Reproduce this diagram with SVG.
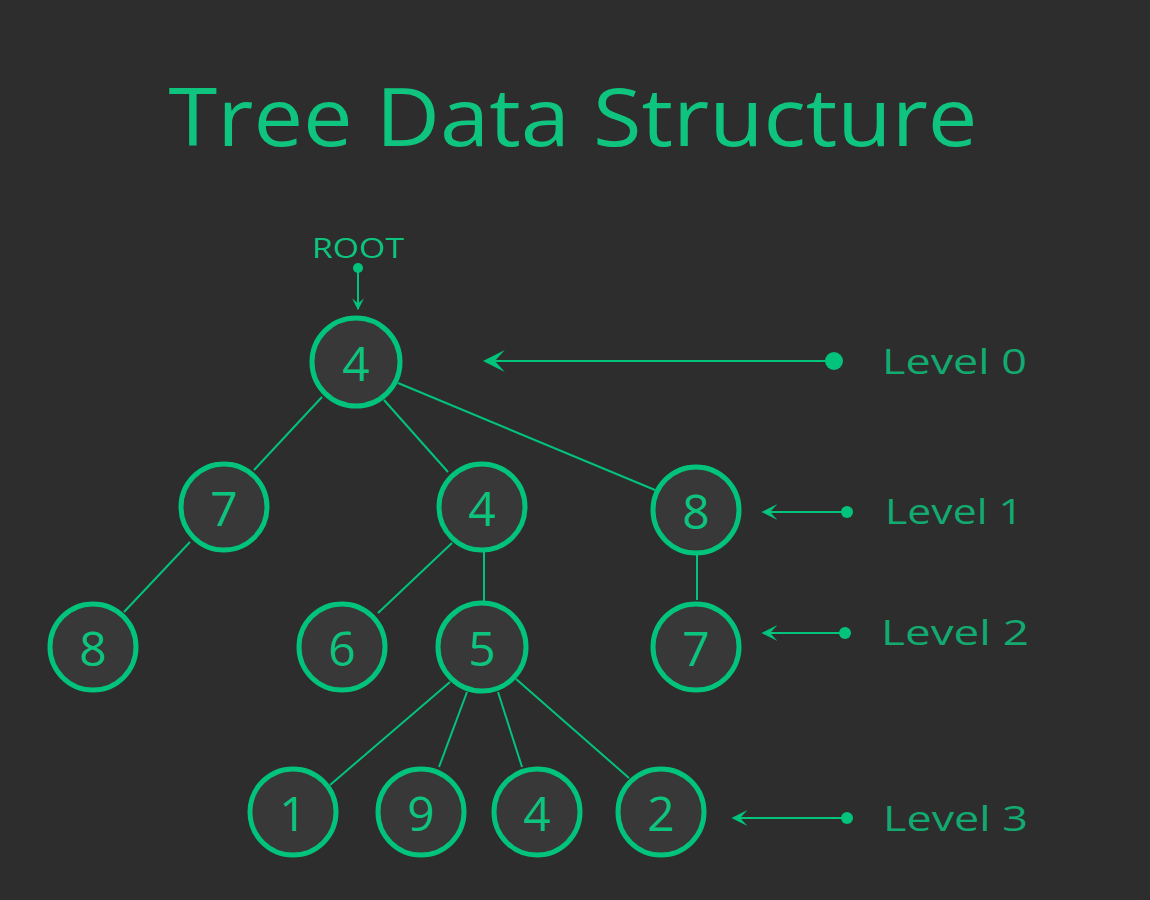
<svg xmlns="http://www.w3.org/2000/svg" width="1150" height="900" viewBox="0 0 1150 900">
<style>
.node circle{fill:#383838;stroke:#02c37b;stroke-width:5}
.node text{font-family:"Open Sans","Liberation Sans",sans-serif;font-size:48px;fill:#0cc47e;text-anchor:middle;dominant-baseline:central}
.edge{stroke:#02c37b;stroke-width:2;fill:none}
.lbl{font-family:"Open Sans","Liberation Sans",sans-serif;font-size:34px;fill:#12aa70}
.dot{fill:#02c37b}
</style>
<defs>
<marker id="ah" viewBox="0 0 20 20" refX="18" refY="10" markerWidth="16" markerHeight="16" markerUnits="userSpaceOnUse" orient="auto">
<path d="M20,10 L0,0 L9,10 L0,20 Z" fill="#02c37b"/>
</marker>
<marker id="ahL" viewBox="0 0 20 20" refX="18" refY="10" markerWidth="22" markerHeight="22" markerUnits="userSpaceOnUse" orient="auto">
<path d="M20,10 L0,0 L9,10 L0,20 Z" fill="#02c37b"/>
</marker>
<marker id="ahS" viewBox="0 0 20 20" refX="18" refY="10" markerWidth="12" markerHeight="12" markerUnits="userSpaceOnUse" orient="auto">
<path d="M20,10 L0,0 L9,10 L0,20 Z" fill="#02c37b"/>
</marker>
</defs>
<rect width="1150" height="900" fill="#2d2d2d"/>
<text x="573" y="146" font-family="Open Sans, Liberation Sans, sans-serif" font-size="80" fill="#0fc47f" text-anchor="middle" textLength="809" lengthAdjust="spacingAndGlyphs">Tree Data Structure</text>
<g id="connectors">
<line class="edge" x1="322" y1="397" x2="254" y2="470"/>
<line class="edge" x1="384" y1="400" x2="448" y2="472"/>
<line class="edge" x1="398" y1="383" x2="655" y2="490"/>
<line class="edge" x1="190" y1="542" x2="124" y2="612"/>
<line class="edge" x1="452" y1="543" x2="378" y2="613"/>
<line class="edge" x1="484" y1="552" x2="484" y2="603"/>
<line class="edge" x1="697" y1="555" x2="697" y2="600"/>
<line class="edge" x1="450" y1="682" x2="330" y2="785"/>
<line class="edge" x1="467" y1="692" x2="439" y2="767"/>
<line class="edge" x1="498" y1="692" x2="522" y2="767"/>
<line class="edge" x1="516" y1="679" x2="629" y2="778"/>
<circle class="dot" cx="358" cy="268" r="5"/>
<line class="edge" x1="358" y1="268" x2="358" y2="309" marker-end="url(#ahS)"/>
<circle class="dot" cx="834" cy="361" r="9"/>
<line class="edge" x1="834" y1="361" x2="485" y2="361" marker-end="url(#ahL)" stroke-width="2.5"/>
<circle class="dot" cx="847" cy="512" r="6"/>
<line class="edge" x1="847" y1="512" x2="763" y2="512" marker-end="url(#ah)"/>
<circle class="dot" cx="845" cy="633" r="6"/>
<line class="edge" x1="845" y1="633" x2="763" y2="633" marker-end="url(#ah)"/>
<circle class="dot" cx="847" cy="818" r="6"/>
<line class="edge" x1="847" y1="818" x2="733" y2="818" marker-end="url(#ah)"/>
</g>
<text x="358" y="258" font-family="Open Sans, Liberation Sans, sans-serif" font-size="28" fill="#0cc47e" text-anchor="middle" textLength="92" lengthAdjust="spacingAndGlyphs">ROOT</text>
<text class="lbl" x="882" y="374" textLength="145" lengthAdjust="spacingAndGlyphs">Level 0</text>
<text class="lbl" x="885" y="524" textLength="138" lengthAdjust="spacingAndGlyphs">Level 1</text>
<text class="lbl" x="881" y="645" textLength="148" lengthAdjust="spacingAndGlyphs">Level 2</text>
<text class="lbl" x="883" y="831" textLength="145" lengthAdjust="spacingAndGlyphs">Level 3</text>
<g id="n-root" class="node"><circle cx="356" cy="362" r="44"/><text x="356" y="362">4</text></g>
<g id="n-7a" class="node"><circle cx="224" cy="507" r="43"/><text x="224" y="507">7</text></g>
<g id="n-4a" class="node"><circle cx="482" cy="507" r="43"/><text x="482" y="507">4</text></g>
<g id="n-8a" class="node"><circle cx="696" cy="510" r="43"/><text x="696" y="510">8</text></g>
<g id="n-8b" class="node"><circle cx="93" cy="647" r="43"/><text x="93" y="647">8</text></g>
<g id="n-6" class="node"><circle cx="342" cy="647" r="43"/><text x="342" y="647">6</text></g>
<g id="n-5" class="node"><circle cx="482" cy="647" r="44"/><text x="482" y="647">5</text></g>
<g id="n-7b" class="node"><circle cx="696" cy="647" r="43"/><text x="696" y="647">7</text></g>
<g id="n-1" class="node"><circle cx="293" cy="812" r="43"/><text x="293" y="812">1</text></g>
<g id="n-9" class="node"><circle cx="421" cy="812" r="43"/><text x="421" y="812">9</text></g>
<g id="n-4b" class="node"><circle cx="537" cy="812" r="43"/><text x="537" y="812">4</text></g>
<g id="n-2" class="node"><circle cx="661" cy="812" r="43"/><text x="661" y="812">2</text></g>
</svg>
